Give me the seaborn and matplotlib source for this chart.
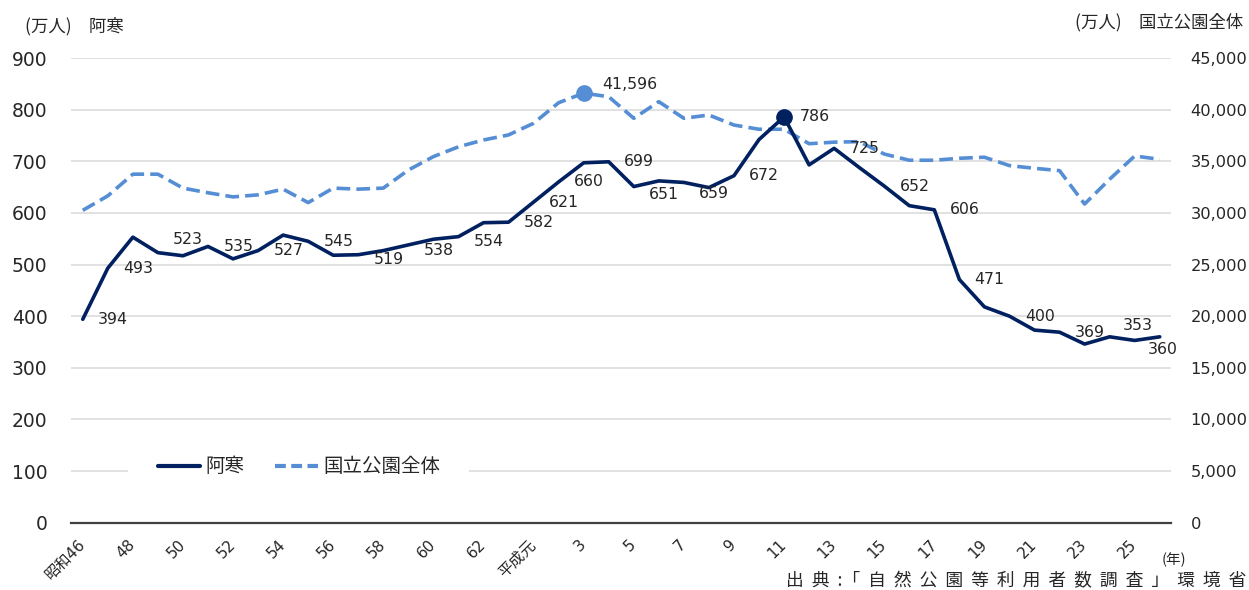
import numpy as np
import pandas as pd
import matplotlib
matplotlib.use("Agg")
import matplotlib.pyplot as plt
import seaborn as sns
from matplotlib.lines import Line2D
from matplotlib.ticker import FuncFormatter, MultipleLocator

# 年（昭和46年〜平成26年）
years = ['昭和46', '47', '48', '49', '50', '51', '52', '53', '54', '55',
         '56', '57', '58', '59', '60', '61', '62', '63', '平成元', '2',
         '3', '4', '5', '6', '7', '8', '9', '10', '11', '12',
         '13', '14', '15', '16', '17', '18', '19', '20', '21', '22',
         '23', '24', '25', '26']

# 阿寒 利用者数（万人）
akan = [394, 493, 553, 523, 517, 535, 511, 527, 557, 545,
        518, 519, 527, 538, 549, 554, 581, 582, 621, 660,
        697, 699, 651, 662, 659, 649, 672, 742, 786, 693,
        725, 688, 652, 614, 606, 471, 418, 400, 373, 369,
        346, 360, 353, 360]

# 国立公園全体 利用者数（万人）
national = [30250, 31650, 33750, 33750, 32400, 31950, 31550, 31750, 32300, 31000,
            32400, 32300, 32400, 34150, 35450, 36400, 37060, 37550, 38680, 40670,
            41596, 41250, 39160, 40770, 39160, 39480, 38510, 38100, 38100, 36700,
            36850, 36900, 35700, 35100, 35100, 35290, 35390, 34580, 34320, 34090,
            30860, 33260, 35510, 35190]

# data labels shown on the 阿寒 line
label_idx = [0, 1, 3, 5, 7, 9, 11, 13, 15, 17, 18, 19, 21, 22, 24, 26,
             28, 30, 32, 34, 35, 37, 39, 42, 43]

df = pd.DataFrame({'idx': np.arange(len(years)), 'year': years,
                   'akan': akan, 'national': national})

NAVY = '#002060'
LIGHT = '#558ED5'
JP = 'Noto Sans CJK JP'

sns.set_theme(style='white')
plt.rcParams['font.family'] = ['DejaVu Sans', JP]
plt.rcParams['text.color'] = '#262626'

fig = plt.figure(figsize=(12.49, 5.90), dpi=100)
ax = fig.add_axes([71 / 1249, 67.3 / 590, 1100 / 1249, 464.7 / 590])
ax2 = ax.twinx()
ax.set_zorder(ax2.get_zorder() + 1)
ax.patch.set_visible(False)

# 国立公園全体 (right axis, dashed)
sns.lineplot(data=df, x='idx', y='national', ax=ax2, color=LIGHT,
             linewidth=2.6, legend=False)
ax2.lines[0].set_dashes([3.8, 1.7])
ax2.lines[0].set_solid_capstyle('butt')
imax_n = int(np.argmax(national))
ax2.plot(df['idx'][imax_n], df['national'][imax_n], 'o', color=LIGHT, ms=11)
ax2.annotate(f"{national[imax_n]:,}", (df['idx'][imax_n], df['national'][imax_n]),
             xytext=(13, 6.5), textcoords='offset points', ha='left', va='center',
             fontsize=11.3)

# 阿寒 (left axis, solid)
sns.lineplot(data=df, x='idx', y='akan', ax=ax, color=NAVY,
             linewidth=2.6, legend=False)
imax_a = int(np.argmax(akan))
ax.plot(df['idx'][imax_a], df['akan'][imax_a], 'o', color=NAVY, ms=11)

nudge = {3: (11, 9.5), 11: (11, -3.5), 13: (11, -4), 15: (11, -3.5),
         22: (11, -6), 24: (11, -8), 42: (2, 11), 43: (2, -9)}
for i in label_idx:
    dx, dy = nudge.get(i, (11, 0))
    ha = 'center' if i in (42, 43) else 'left'
    ax.annotate(str(akan[i]), (df['idx'][i], df['akan'][i]),
                xytext=(dx, dy), textcoords='offset points', ha=ha, va='center',
                fontsize=11.3)

# axes
ax.set_xlim(-0.47, 43.45)
ax.set_ylim(0, 900)
ax2.set_ylim(0, 45000)
ax.yaxis.set_major_locator(MultipleLocator(100))
ax2.yaxis.set_major_locator(MultipleLocator(5000))
ax2.yaxis.set_major_formatter(FuncFormatter(lambda v, p: f"{int(v):,}"))
ax2.grid(axis='y', color='#D9D9D9', linewidth=1.1)
ax.grid(False)
ax2.set_axisbelow(True)

ax.set_xticks(df['idx'][::2])
ax.set_xticklabels(df['year'][::2], rotation=45, ha='right', va='center',
                   rotation_mode='anchor', fontsize=11)
ax.tick_params(axis='x', length=0, pad=14)
ax.tick_params(axis='y', length=0, pad=17, labelsize=13.5)
ax2.tick_params(axis='y', length=0, pad=14, labelsize=11.7)
ax.set_xlabel('')
ax.set_ylabel('')
ax2.set_ylabel('')
for a in (ax, ax2):
    for s in ('top', 'left', 'right'):
        a.spines[s].set_visible(False)
ax2.spines['bottom'].set_visible(False)
ax.spines['bottom'].set_color('#404040')
ax.spines['bottom'].set_linewidth(1.6)

# legend
handles = [Line2D([], [], color=NAVY, lw=3),
           Line2D([], [], color=LIGHT, lw=3, dashes=[2.6, 1.3])]
leg = ax.legend(handles, ['阿寒', '国立公園全体'], ncol=2, loc='center',
                bbox_to_anchor=(0.207, 0.12), frameon=True, facecolor='white',
                edgecolor='none', framealpha=1, fancybox=False,
                prop={'family': JP, 'size': 14}, handlelength=2.2,
                handletextpad=0.25, columnspacing=1.6, borderpad=0.6)
leg.get_frame().set_boxstyle('square', pad=0.9)

# texts
fig.text(25 / 1249, 1 - 26 / 590, '(万人)　阿寒', fontsize=12.5, family=JP,
         ha='left', va='center')
fig.text(1243 / 1249, 1 - 22 / 590, '(万人)　国立公園全体', fontsize=12.5, family=JP,
         ha='right', va='center')
fig.text(1174 / 1249, 1 - 560 / 590, '(年)', fontsize=10.5, family=JP,
         ha='center', va='center')
fig.text(1246 / 1249, 1 - 581 / 590,
         '出  典  :「  自  然  公  園  等  利  用  者  数  調  査  」  環  境  省',
         fontsize=12.8, family=JP, ha='right', va='center')

fig.savefig('out.png', dpi=100)
